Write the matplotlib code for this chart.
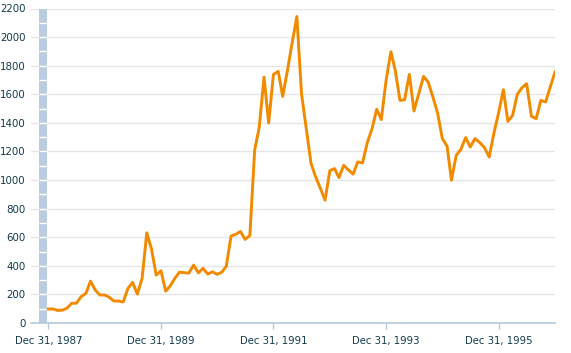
import matplotlib
matplotlib.use("Agg")
import matplotlib.pyplot as plt
import matplotlib.dates as mdates
import matplotlib.transforms as mtransforms
import numpy as np
import pandas as pd

# monthly values, Dec 1987 .. Dec 1996
values = [98, 98, 88, 90, 103, 138, 138, 184, 207, 293,
          230, 196, 196, 179, 154, 154, 147, 242, 284, 202,
          314, 631, 517, 335, 365, 223, 258, 312, 356, 352,
          349, 405, 351, 382, 342, 358, 340, 356, 398, 608,
          620, 640, 585, 612, 1208, 1371, 1720, 1399, 1739, 1760,
          1585, 1767, 1958, 2144, 1604, 1360, 1115, 1022, 941, 859,
          1066, 1080, 1017, 1103, 1071, 1041, 1127, 1120, 1262, 1356,
          1495, 1423, 1697, 1897, 1770, 1557, 1562, 1739, 1483, 1604,
          1725, 1685, 1580, 1469, 1290, 1236, 999, 1173, 1213, 1297,
          1231, 1290, 1262, 1228, 1161, 1325, 1470, 1632, 1410, 1453,
          1599, 1646, 1674, 1446, 1429, 1557, 1546, 1650, 1755]
dates = pd.date_range("1987-12-31", periods=len(values), freq="ME")
tick_dates = pd.to_datetime(["1987-12-31", "1989-12-31", "1991-12-31",
                             "1993-12-31", "1995-12-31"])
tick_labels = ["Dec 31, 1987", "Dec 31, 1989", "Dec 31, 1991",
               "Dec 31, 1993", "Dec 31, 1995"]
y_ticks = list(range(0, 2201, 200))

W, H = 571, 353
fig = plt.figure(figsize=(W / 100, H / 100), dpi=100)
ax = fig.add_axes([31 / W, 30 / H, 524 / W, 314.5 / H])

x = mdates.date2num(dates)
xt = mdates.date2num(tick_dates)
# left edge ~17 px before first point
span = x[-1] - x[0]
left = x[0] - span * 17.3 / (555 - 48.3)
ax.set_xlim(left, x[-1])
ax.set_ylim(0, 2200)

label_color = "#123a4a"
axis_color = "#b4c8da"

for v in y_ticks[1:]:
    ax.axhline(v, color="#e6e6e6", lw=1, zorder=1)

# left bar
trans = mtransforms.blended_transform_factory(ax.transAxes, ax.transData)
ax.add_patch(plt.Rectangle((8 / 524, 0), 8 / 524, 2200, transform=trans,
                           color="#bacde0", lw=0, zorder=2))
ax.hlines(np.arange(100, 2200, 100), 8 / 524, 16 / 524, transform=trans,
          color="white", lw=1, zorder=3)

ax.plot(x, values, color="#f28a00", lw=2.1, zorder=4)

for s in ["top", "right", "left"]:
    ax.spines[s].set_visible(False)
ax.spines["bottom"].set_color(axis_color)
ax.spines["bottom"].set_linewidth(1.2)

ax.set_yticks(y_ticks)
ax.set_yticklabels([str(v) for v in y_ticks])
ax.tick_params(axis="y", length=0, pad=4, labelsize=7.4, labelcolor=label_color)
ax.set_xticks(xt)
ax.set_xticklabels(tick_labels)
ax.tick_params(axis="x", length=4.5, width=1, color=axis_color, pad=5,
               labelsize=7.3, labelcolor=label_color)

fig.savefig("out.png", dpi=100)
